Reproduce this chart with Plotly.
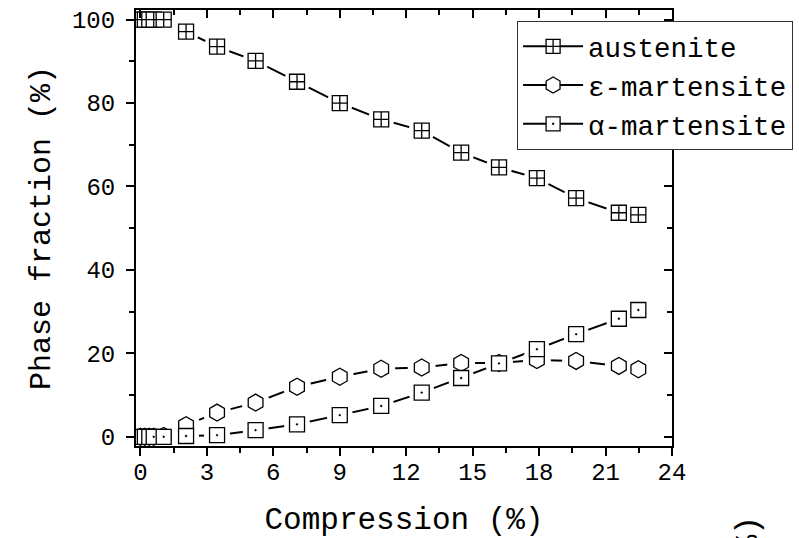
import plotly.graph_objects as go

compression = [0, 0.2, 0.4, 0.6, 1.05, 2.06, 3.46, 5.2, 7.07, 9.0, 10.87, 12.7, 14.48, 16.19, 17.9, 19.67, 21.6, 22.48]
austenite = [100, 100, 100, 100, 100, 97.1, 93.5, 90.1, 85.1, 80.0, 76.1, 73.4, 68.1, 64.6, 62.0, 57.2, 53.7, 53.2]
eps_mart = [0, 0, 0, 0, 0.2, 2.8, 5.8, 8.2, 12.0, 14.4, 16.3, 16.6, 17.7, 17.7, 18.4, 18.2, 17.0, 16.2]
alpha_mart = [0, 0, 0, 0, 0, 0.2, 0.4, 1.6, 3.0, 5.2, 7.4, 10.6, 14.1, 17.6, 21.0, 24.6, 28.3, 30.4]

names = ["austenite", "\u03b5-martensite", "\u03b1-martensite"]
series = [austenite, eps_mart, alpha_mart]
symbols = ["square-cross", "hexagon", "square-dot"]
sizes = [15, 17, 15]

FONT = "Liberation Mono, Courier New, monospace"
fig = go.Figure()

# connecting lines
for y in series:
    fig.add_trace(go.Scatter(x=compression, y=y, mode="lines", showlegend=False,
                             line=dict(color="black", width=2), hoverinfo="skip"))
# white halos to create gaps around the symbols
for y, s, sz in zip(series, symbols, sizes):
    fig.add_trace(go.Scatter(x=compression, y=y, mode="markers", showlegend=False,
                             marker=dict(symbol="circle", size=sz + 11, color="white",
                                         line=dict(color="white", width=0)), hoverinfo="skip"))
# symbols
for y, s, sz in zip(series, symbols, sizes):
    fig.add_trace(go.Scatter(x=compression, y=y, mode="markers", showlegend=False,
                             marker=dict(symbol=s, size=sz, color="white",
                                         line=dict(color="black", width=1.3))))
# legend entries
for n, s, sz in zip(names, symbols, sizes):
    fig.add_trace(go.Scatter(x=[None], y=[None], mode="lines+markers", name=n,
                             line=dict(color="black", width=2),
                             marker=dict(symbol=s, size=sz - 1, color="white",
                                         line=dict(color="black", width=1.3))))
# dummy on mirror axes
fig.add_trace(go.Scatter(x=[None], y=[None], xaxis="x2", yaxis="y2", showlegend=False))

xr = [-0.2, 24]
yr = [-2.2, 102.3]
axis_common = dict(showline=True, linecolor="black", linewidth=2, showgrid=False,
                   zeroline=False, tickcolor="black", tickwidth=2, ticklen=8)

fig.update_layout(
    width=799, height=538,
    margin=dict(l=135.5, r=127, t=10, b=92, autoexpand=False),
    plot_bgcolor="white", paper_bgcolor="white",
    font=dict(family=FONT, color="black", size=24),
    xaxis=dict(range=xr, tickmode="linear", tick0=0, dtick=3, ticks="outside",
               minor=dict(ticks="outside", ticklen=5, tickwidth=2, dtick=1.5, tick0=0, tickcolor="black"),
               tickfont=dict(size=24, family=FONT), ticklabelstandoff=-5,
               title=dict(text="Compression (%)", font=dict(size=31, family=FONT), standoff=22),
               **axis_common),
    yaxis=dict(range=yr, tickmode="linear", tick0=0, dtick=20, ticks="outside",
               minor=dict(ticks="outside", ticklen=5, tickwidth=2, dtick=10, tick0=0, tickcolor="black"),
               tickfont=dict(size=24, family=FONT), ticklabelstandoff=6,
               title=dict(text="Phase fraction (%)", font=dict(size=30, family=FONT), standoff=12),
               **axis_common),
    xaxis2=dict(range=xr, overlaying="x", side="top", tickmode="linear", tick0=0, dtick=3,
                ticks="inside", showticklabels=False,
                minor=dict(ticks="inside", ticklen=5, tickwidth=2, dtick=1.5, tick0=0, tickcolor="black"),
                **axis_common),
    yaxis2=dict(range=yr, overlaying="y", side="right", tickmode="linear", tick0=0, dtick=20,
                ticks="inside", showticklabels=False,
                minor=dict(ticks="inside", ticklen=5, tickwidth=2, dtick=10, tick0=0, tickcolor="black"),
                **axis_common),
    legend=dict(x=0.711, y=0.975, xanchor="left", yanchor="top", bgcolor="white",
                bordercolor="#333333", borderwidth=1, font=dict(size=27.5, family=FONT),
                itemwidth=60, tracegroupgap=0),
    annotations=[dict(text="(%)", textangle=-90, x=1.1417, y=-0.2248, xref="paper", yref="paper",
                      xanchor="center", yanchor="middle", showarrow=False,
                      font=dict(size=31, family=FONT))],
)

fig.write_html("out.html")
